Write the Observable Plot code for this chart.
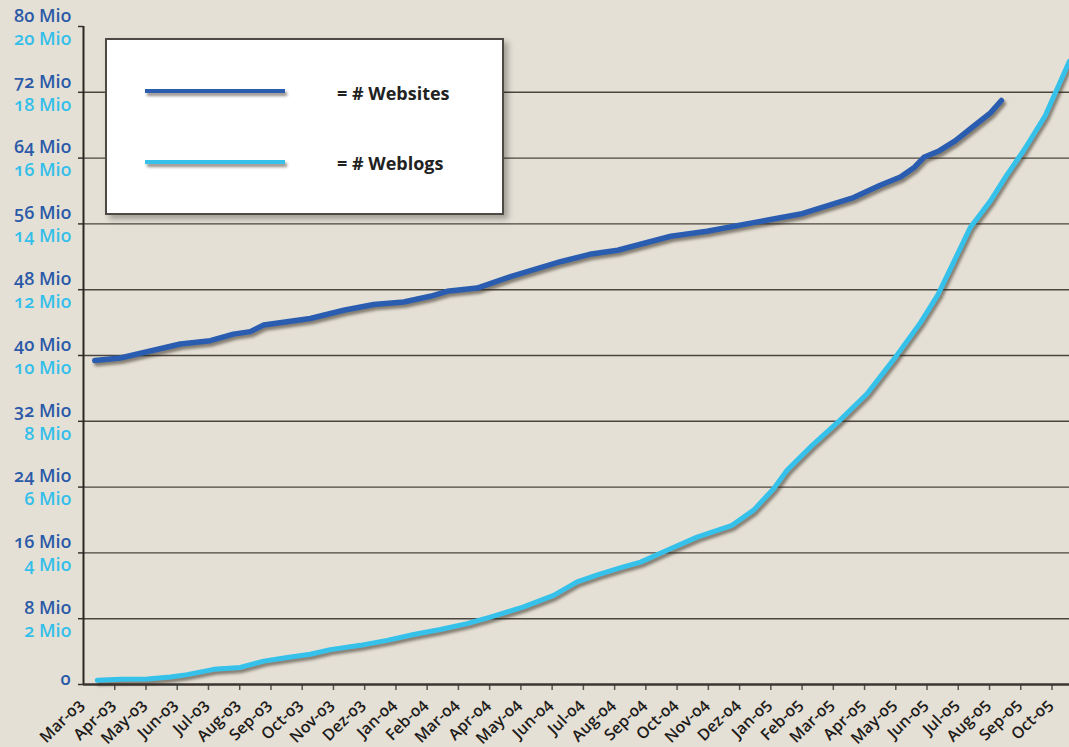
<!DOCTYPE html>
<html><head><meta charset="utf-8">
<script src="https://cdn.jsdelivr.net/npm/d3@7"></script>
<script src="https://cdn.jsdelivr.net/npm/@observablehq/plot@0.6"></script>
<style>
html,body{margin:0;padding:0;background:#e5e0d5;}
#wrap{position:relative;width:1069px;height:747px;overflow:hidden;background:#e5e0d5;}
#wrap svg{position:absolute;left:0;top:0;}
svg text{font-variant-numeric:oldstyle-nums;}
#legend{position:absolute;left:105px;top:38px;width:395px;height:173px;background:#fff;border:2px solid #4d4a45;box-shadow:4px 4px 6px rgba(0,0,0,0.3);font-family:'Open Sans',sans-serif;}
.lg-line{position:absolute;left:38px;width:140px;height:4px;box-shadow:2px 3px 3px rgba(60,50,40,0.55);}
.lg-text{position:absolute;left:230px;font-size:18px;font-weight:700;color:#222;line-height:20px;}
</style>
</head><body>
<div id="wrap">
  <div id="legend">
    <div class="lg-line" style="top:49px;background:#2a5db0"></div>
    <div class="lg-text" style="top:43px">= # Websites</div>
    <div class="lg-line" style="top:120px;background:#36c1ea"></div>
    <div class="lg-text" style="top:113px">= # Weblogs</div>
  </div>
</div>
<script>
// Month categories (x index 0 = Mar-03)
const months = ["Mar-03","Apr-03","May-03","Jun-03","Jul-03","Aug-03","Sep-03","Oct-03","Nov-03","Dez-03",
  "Jan-04","Feb-04","Mar-04","Apr-04","May-04","Jun-04","Jul-04","Aug-04","Sep-04","Oct-04","Nov-04","Dez-04",
  "Jan-05","Feb-05","Mar-05","Apr-05","May-05","Jun-05","Jul-05","Aug-05","Sep-05","Oct-05"];
// Left axis ticks (Mio websites); second label = value / 4 (Mio weblogs)
const yTicks = [8,16,24,32,40,48,56,64,72,80];
const ratio = 4;

// Websites (time in months since start of Mar-03, value in Mio)
const websitesT = [0.36,1.18,3.1,4.06,4.8,5.34,5.77,7.26,8.33,9.29,10.25,11.1,11.64,12.6,13.67,15.27,16.2,17.1,18.8,19.96,22.95,24.65,25.5,26.15,26.6,26.9,27.4,27.9,28.4,29.03,29.38];
const websitesV = [39.4,39.7,41.4,41.8,42.6,42.9,43.7,44.5,45.5,46.2,46.5,47.2,47.8,48.2,49.6,51.4,52.3,52.8,54.5,55.1,57.2,59.2,60.7,61.7,62.9,64.1,64.9,66.1,67.6,69.5,71.0];

// Weblogs (time in months since start of Mar-03, value in Mio weblogs)
const weblogsT = [0.44,1.18,2.04,2.78,3.32,4.17,5.02,5.77,6.52,7.26,7.9,8.86,9.72,10.57,11.42,12.28,13.02,14.09,15.05,15.8,16.5,17.2,17.83,18.68,19.64,20.76,21.45,22.09,22.52,23.27,24.12,25.08,25.99,26.79,27.35,28.39,29.03,29.53,30.12,30.79,31.56];
const weblogsV = [0.13,0.16,0.17,0.23,0.30,0.46,0.52,0.71,0.82,0.92,1.06,1.19,1.34,1.52,1.67,1.85,2.05,2.36,2.71,3.12,3.35,3.55,3.72,4.08,4.48,4.84,5.30,5.95,6.51,7.22,7.95,8.84,9.95,11.0,11.85,13.9,14.7,15.45,16.27,17.3,18.95];

const websites = websitesT.map((t,i)=>({t, v: websitesV[i]}));
const weblogs = weblogsT.map((t,i)=>({t, v: weblogsV[i]}));

const blue = "#2b5aa8", cyan = "#34bfea";

const chart = Plot.plot({
  width: 1069, height: 747,
  marginLeft: 83, marginRight: 0, marginTop: 26, marginBottom: 63,
  x: {type: "linear", domain: [0, 31.56]},
  y: {domain: [0, 80]},
  style: {background: "transparent", fontFamily: "'Open Sans', sans-serif", overflow: "visible"},
  marks: [
    Plot.ruleY(yTicks.filter(d => d < 80), {stroke: "#4a463f", strokeWidth: 1.4}),
    Plot.axisY({ticks: [0, ...yTicks], tickSize: 5, fill: "none", stroke: "#333", strokeWidth: 1.5}),
    Plot.axisX({ticks: d3.range(1, months.length), tickSize: 6, fill: "none", stroke: "#555", strokeWidth: 1.5}),
    Plot.ruleX([0], {stroke: "#2b2723", strokeWidth: 2}),
    Plot.ruleY([0], {stroke: "#3a3631", strokeWidth: 2.5}),
    Plot.line(websites, {x: "t", y: "v", stroke: "#2a5db0", strokeWidth: 5.5}),
    Plot.line(weblogs, {x: "t", y: d => d.v * ratio, stroke: "#36c1ea", strokeWidth: 5}),
    Plot.text(yTicks, {y: d => d, frameAnchor: "left", dx: -12, dy: -10.5, textAnchor: "end", text: d => d + " Mio", fill: blue, fontSize: 18, fontWeight: 600}),
    Plot.text(yTicks, {y: d => d, frameAnchor: "left", dx: -12, dy: 12.5, textAnchor: "end", text: d => (d / ratio) + " Mio", fill: cyan, fontSize: 18, fontWeight: 600}),
    Plot.text(["0"], {frameAnchor: "bottom-left", dx: -13, textAnchor: "end", fill: blue, fontSize: 18, fontWeight: 600}),
    Plot.text(months, {x: (d, i) => i, frameAnchor: "bottom", dx: 1, dy: 21, rotate: -45, textAnchor: "end", fill: "#1e1c1a", fontSize: 16, fontWeight: 600})
  ]
});
chart.querySelectorAll('g[aria-label="line"]').forEach(g => {
  g.style.filter = "drop-shadow(2px 3px 1.5px rgba(50,40,30,0.55))";
});
const wrap = document.getElementById("wrap");
wrap.insertBefore(chart, wrap.firstChild);
</script>
</body></html>
